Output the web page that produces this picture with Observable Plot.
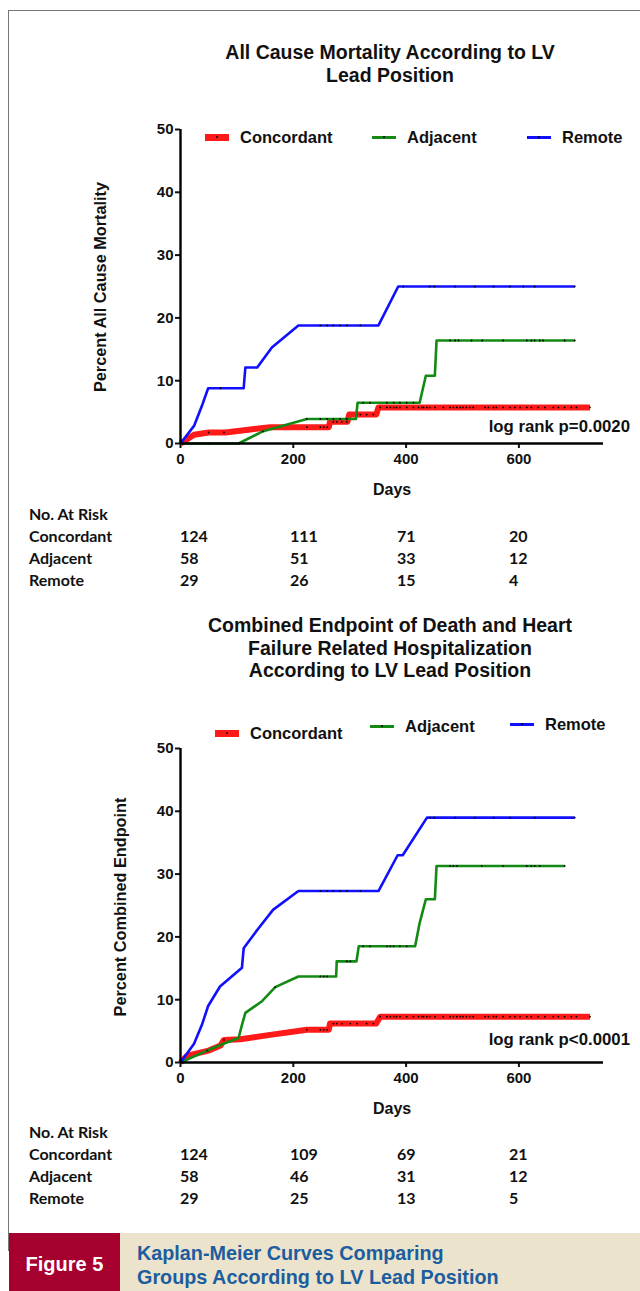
<!DOCTYPE html>
<html>
<head>
<meta charset="utf-8">
<script src="https://cdn.jsdelivr.net/npm/d3@7"></script>
<script src="https://cdn.jsdelivr.net/npm/@observablehq/plot@0.6"></script>
<style>
  html, body { margin: 0; padding: 0; background: #fff; }
  #page { position: relative; width: 640px; height: 1291px; overflow: hidden; background: #fff;
          font-family: 'Liberation Sans', Arial, sans-serif; color: #111; }
  #page svg text { font-size: 15px !important; font-weight: bold; fill: #111; }
  .abs { position: absolute; }
  .frame { left: 8px; top: 10px; width: 640px; height: 1240px; border-left: 1px solid #777; border-top: 1px solid #777; }
  .title { width: 640px; left: 70px; text-align: center; font-weight: bold; font-size: 19.5px; line-height: 23px; }
  .leg { font-weight: bold; font-size: 16.5px; white-space: nowrap; display: flex; align-items: center; }
  .sw { display: inline-block; width: 24px; position: relative; margin-right: 11px; }
  .sw i { position: absolute; left: 11px; top: 50%; width: 2px; height: 2px; margin-top: -1px; background: #000; border-radius: 1px; }
  .ylab { font-weight: bold; font-size: 16.3px; white-space: nowrap; transform: translate(-50%, -50%) rotate(-90deg); }
  .note { font-weight: bold; font-size: 16.8px; white-space: nowrap; }
  .days { font-weight: bold; font-size: 16px; white-space: nowrap; }
  .risk { font-family: Lato, 'Open Sans', sans-serif; font-weight: bold; font-size: 16px; white-space: nowrap; }
  .cap { top: 1233px; height: 58px; }
  .capfont { font-family: 'Liberation Sans Narrow', 'Arial Narrow', 'Liberation Sans', sans-serif; font-weight: bold; }
</style>
</head>
<body>
<div id="page"></div>
<script>
// ---------------- data ----------------
const seriesNames = ["Concordant", "Adjacent", "Remote"];
const seriesColors = ["#ff1a1a", "#138a13", "#1010ff"];
const xTicks = [0, 200, 400, 600];
const yTicks = [0, 10, 20, 30, 40, 50];

// All cause mortality: [days, percent]
const mortConcordant = [[0,0],[24,1.4],[50,1.75],[80,1.75],[120,2.2],[159,2.6],[263,2.6],[265,3.45],[296,3.45],[299,4.6],[347,4.6],[351,5.75],[726,5.75]];
const mortAdjacent = [[0,0],[103,0],[145,1.9],[224,3.9],[311,3.9],[314,6.5],[424,6.5],[435,10.8],[451,10.8],[454,16.4],[699,16.4]];
const mortRemote = [[0,0],[24,2.8],[38,6.0],[49,8.8],[112,8.8],[115,12.1],[136,12.1],[162,15.3],[209,18.8],[351,18.8],[386,25.0],[699,25.0]];

// Combined endpoint: [days, percent]
const combConcordant = [[0,0],[12,1.1],[50,1.9],[71,2.7],[77,3.6],[106,3.7],[159,4.4],[224,5.2],[263,5.2],[265,6.2],[347,6.2],[354,7.3],[726,7.3]];
const combAdjacent = [[0,0],[47,1.9],[74,2.9],[103,3.9],[109,6.0],[115,7.9],[145,9.8],[168,12.0],[209,13.7],[276,13.7],[277,16.1],[312,16.1],[316,18.5],[416,18.5],[424,22.2],[435,26.0],[451,26.0],[454,31.3],[681,31.3]];
const combRemote = [[0,0],[24,3.0],[38,6.0],[49,9.0],[70,12.1],[109,15.1],[112,18.2],[136,21.1],[164,24.3],[209,27.3],[351,27.3],[385,33.0],[394,33.0],[437,39.0],[699,39.0]];

// censoring tick days
const lateCensor = [354,366,372,378,383,389,401,413,422,428,431,437,442,451,466,478,484,490,496,501,507,513,519,540,546,555,560,572,584,593,602,614,622,634,646,661,670,681,693,702,726];
const mortCensorConcordant = [50,77,224,248,254,260,271,277,286,295,313,319,330,342].concat(lateCensor);
const mortCensorAdjacent = [50,146,224,248,260,271,283,295,324,336,366,378,389,401,413,478,487,493,516,535,572,614,622,628,637,643,681,699];
const mortCensorRemote = [71,248,260,271,283,295,319,395,442,450,487,522,555,584,608,628,699];
const combCensorConcordant = [50,77,224,248,254,260,271,277,286,301,313,330,342].concat(lateCensor);
const combCensorAdjacent = [47,168,248,254,260,295,301,324,336,366,372,378,389,401,478,484,490,534,572,614,622,628,637,681];
const combCensorRemote = [248,260,271,283,295,319,442,450,487,522,555,584,628,699];

// numbers at risk at days 0, 200, 400, 600
const riskLabel = "No. At Risk";
const mortRiskConcordant = [124, 111, 71, 20];
const mortRiskAdjacent = [58, 51, 33, 12];
const mortRiskRemote = [29, 26, 15, 4];
const combRiskConcordant = [124, 109, 69, 21];
const combRiskAdjacent = [58, 46, 31, 12];
const combRiskRemote = [29, 25, 13, 5];

const mortTitle = ["All Cause Mortality According to LV", "Lead Position"];
const combTitle = ["Combined Endpoint of Death and Heart", "Failure Related Hospitalization", "According to LV Lead Position"];
const mortYLabel = "Percent All Cause Mortality";
const combYLabel = "Percent Combined Endpoint";
const xLabel = "Days";
const mortNote = "log rank p=0.0020";
const combNote = "log rank p<0.0001";
const figLabel = "Figure 5";
const figCaption = ["Kaplan-Meier Curves Comparing", "Groups According to LV Lead Position"];

// ---------------- helpers ----------------
const page = document.getElementById("page");
function el(cls, css, html) {
  const d = document.createElement("div");
  d.className = "abs " + cls;
  Object.assign(d.style, css);
  if (html != null) d.innerHTML = html;
  page.appendChild(d);
  return d;
}
function yAt(pts, d) {
  for (let i = 0; i < pts.length - 1; i++) {
    const [x0, y0] = pts[i], [x1, y1] = pts[i + 1];
    if (d >= x0 && d <= x1) return y0 + (y1 - y0) * (d - x0) / (x1 - x0);
  }
  return pts[pts.length - 1][1];
}
function rows(pts, name) { return pts.map(([day, pct]) => ({day, pct, series: name})); }
function censorRows(days, pts, name) { return days.map(day => ({day, pct: yAt(pts, day), series: name})); }

const FONT = "'Liberation Sans', Arial, sans-serif";
const widths = [6, 2.6, 2.6];

function chart(curves, censors, height, marginTop, marginBottom) {
  const marks = [
    Plot.axisX({ticks: xTicks, tickSize: 5, tickPadding: 5, label: null, strokeWidth: 2, fontSize: 15}),
    Plot.axisY({ticks: yTicks, tickSize: 5, tickPadding: 2, label: null, strokeWidth: 2, fontSize: 15}),
  ];
  curves.forEach((pts, i) => {
    marks.push(Plot.line(rows(pts, seriesNames[i]), {x: "day", y: "pct", stroke: seriesColors[i], strokeWidth: widths[i], strokeLinejoin: "round", strokeLinecap: "butt"}));
    marks.push(Plot.dot(censorRows(censors[i], pts, seriesNames[i]), {x: "day", y: "pct", r: 0.9, fill: "#000", stroke: "none"}));
  });
  marks.push(Plot.ruleX([0], {strokeWidth: 2.4, stroke: "#000"}));
  marks.push(Plot.ruleY([0], {strokeWidth: 2.4, stroke: "#000"}));
  return Plot.plot({
    width: 640, height,
    marginLeft: 180, marginRight: 37, marginTop, marginBottom,
    x: {domain: [0, 750]},
    y: {domain: [0, 50]},
    style: {fontFamily: FONT, fontWeight: "bold", fontSize: "15px", color: "#111", background: "transparent", overflow: "visible"},
    marks
  });
}

// ---------------- frame ----------------
el("frame", {});

// ---------------- panel 1 ----------------
const p1 = chart([mortConcordant, mortAdjacent, mortRemote], [mortCensorConcordant, mortCensorAdjacent, mortCensorRemote], 510, 129, 67);
p1.style.position = "absolute"; p1.style.left = "0px"; p1.style.top = "0px";
page.appendChild(p1);

el("title", {top: "41px"}, mortTitle.join("<br>"));

function legend(specs) {
  specs.forEach((s, i) => {
    const h = i === 0 ? 7 : 3;
    el("leg", {left: s[0] + "px", top: (s[1] - 11) + "px", height: "22px"},
      `<span class="sw" style="height:${h}px;background:${seriesColors[i]}"><i></i></span>${seriesNames[i]}`);
  });
}
legend([[205, 137], [372, 137], [527, 137]]);

el("ylab", {left: "100px", top: "287px"}, mortYLabel);
el("note", {right: "10px", top: "417px"}, mortNote);
el("days", {left: "373px", top: "481px"}, xLabel);

function riskTable(top, arrs) {
  const cols = [180, 290, 397, 509];
  el("risk", {left: "29px", top: (top - 11) + "px"}, riskLabel);
  arrs.forEach((a, r) => {
    const y = top + 22 * (r + 1) - 11;
    el("risk", {left: "29px", top: y + "px"}, seriesNames[r]);
    a.forEach((v, c) => el("risk", {left: cols[c] + "px", top: y + "px"}, String(v)));
  });
}
riskTable(515, [mortRiskConcordant, mortRiskAdjacent, mortRiskRemote]);

// ---------------- panel 2 ----------------
const p2 = chart([combConcordant, combAdjacent, combRemote], [combCensorConcordant, combCensorAdjacent, combCensorRemote], 420, 48, 58);
p2.style.position = "absolute"; p2.style.left = "0px"; p2.style.top = "700px";
page.appendChild(p2);

el("title", {top: "614px", lineHeight: "22.5px"}, combTitle.join("<br>"));
legend([[215, 733], [370, 726], [510, 724]]);
el("ylab", {left: "120px", top: "907px"}, combYLabel);
el("note", {right: "10px", top: "1030px"}, combNote);
el("days", {left: "373px", top: "1100px"}, xLabel);
riskTable(1133, [combRiskConcordant, combRiskAdjacent, combRiskRemote]);

// ---------------- caption ----------------
el("cap", {left: "9px", width: "111px", background: "#a6002f"});
el("cap", {left: "120px", width: "520px", background: "#ebe3cc"});
el("capfont", {left: "9px", width: "111px", top: "1252px", textAlign: "center", color: "#fff", fontSize: "20px", lineHeight: "24px"}, figLabel);
el("capfont", {left: "137px", top: "1241px", color: "#1b5d9e", fontSize: "19.8px", lineHeight: "24px", whiteSpace: "nowrap"}, figCaption.join("<br>"));
</script>
</body>
</html>
